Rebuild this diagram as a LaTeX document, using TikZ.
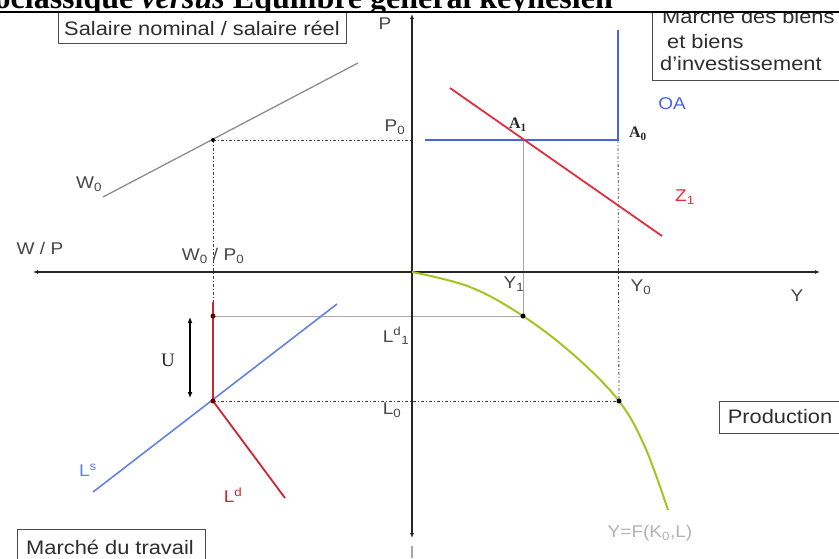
\documentclass[tikz,border=0pt]{standalone}
\usepackage{fontspec}
\setmainfont{Liberation Sans}[FakeStretch=1.12]
\newfontfamily\serifbold{Liberation Serif}
\usetikzlibrary{arrows.meta}
\definecolor{oablue}{RGB}{70,100,230}
\definecolor{lsblue}{RGB}{100,130,225}
\definecolor{zred}{RGB}{225,45,60}
\definecolor{ldred}{RGB}{210,35,50}
\definecolor{prodgreen}{RGB}{165,195,35}
\definecolor{txt}{RGB}{70,70,70}
\definecolor{boxtxt}{RGB}{45,45,45}
\tikzset{
  axisline/.style={draw=black!85, line width=1.5pt, {Latex[length=5pt,width=4pt]}-{Latex[length=5pt,width=4pt]}},
  lbl/.style={text=txt, font=\fontsize{17}{19}\selectfont, inner sep=0pt},
  boxlbl/.style={text=boxtxt, font=\fontsize{19.5}{22}\selectfont, inner sep=0pt},
  frame/.style={draw=black!70, line width=1pt},
  dashdot/.style={draw=black!75, line width=0.8pt, dash pattern=on 3pt off 2pt on 1pt off 2pt},
  thin gray/.style={draw=black!35, line width=0.7pt},
  dotpt/.style={circle, fill=black, inner sep=0pt, minimum size=5pt},
  serifbl/.style={text=black!85, font=\serifbold\bfseries\fontsize{16}{18}\selectfont, inner sep=0pt},
}
\begin{document}
\begin{tikzpicture}[x=1pt,y=-1pt]
\useasboundingbox (0,0) rectangle (839,558);
% key coordinates
\coordinate (O) at (412,272);
\coordinate (xl) at (33,272);
\coordinate (xr) at (820,272);
\coordinate (yt) at (412,14);
\coordinate (yb) at (412,538);
\coordinate (oa1) at (425,140);
\coordinate (A0) at (618,140);
\coordinate (oa2) at (618,30);
\coordinate (z1a) at (450,88);
\coordinate (z1b) at (662,236);
\coordinate (A1) at (523,140);
\coordinate (Y1p) at (523,316);
\coordinate (Y0p) at (619,401);
\coordinate (w0a) at (103,197);
\coordinate (w0b) at (358,63);
\coordinate (E0) at (213,140);
\coordinate (P0ax) at (412,140);
\coordinate (ldtop) at (213,302);
\coordinate (Ld1) at (213,316);
\coordinate (E1) at (213,401);
\coordinate (ldend) at (285,498);
\coordinate (lsa) at (93,492);
\coordinate (lsb) at (337,304);
\coordinate (Ua) at (190,317);
\coordinate (Ub) at (190,398);
\coordinate (pend) at (668,510);

% guide lines
\draw[thin gray] (A1) -- (Y1p);
\draw[thin gray] (Ld1) -- (Y1p);
\draw[dashdot] (A0) -- (Y0p);
\draw[dashdot] (E0) -- (P0ax);
\draw[dashdot] (E0) -- (ldtop);
\draw[dashdot] (E1) -- (Y0p);

% axes
\draw[axisline] (xl) -- (xr);
\draw[axisline] (yt) -- (yb);
\draw[black!35, line width=1.2pt] (412,546) -- (412,558);

% curves
\draw[black!45, line width=1.3pt] (w0a) -- (w0b);
\draw[oablue, line width=1.6pt] (oa1) -- (A0) -- (oa2);
\draw[zred, line width=1.8pt] (z1a) -- (z1b);
\draw[lsblue, line width=1.6pt] (lsa) -- (lsb);
\draw[ldred, line width=1.8pt] (ldtop) -- (E1) -- (ldend);
\draw[prodgreen, line width=2pt] plot[smooth, tension=0.6] coordinates {(412,272) (470,287) (523,316) (575,356) (619,401) (645,447) (668,510)};
\draw[black, line width=1.5pt, {Latex[length=6pt,width=5pt]}-{Latex[length=6pt,width=5pt]}] (Ua) -- (Ub);

% points
\node[dotpt, minimum size=4pt] (dE0) at (E0) {};
\node[dotpt, fill=black!60!red] (dLd1) at (Ld1) {};
\node[dotpt, fill=black!60!red] (dE1) at (E1) {};
\node[dotpt] (dY1) at (Y1p) {};
\node[dotpt] (dY0) at (Y0p) {};

% labels
\node[lbl] (lP) at (385,24) {P};
\node[lbl] (lP0) at (395,127) {P\textsubscript{0}};
\node[lbl] (lW0) at (89,184) {W\textsubscript{0}};
\node[lbl] (lWP) at (40,248) {W / P};
\node[lbl] (lW0P0) at (213,256) {W\textsubscript{0} / P\textsubscript{0}};
\node[lbl] (lY1) at (514,284) {Y\textsubscript{1}};
\node[lbl] (lY0) at (641,287) {Y\textsubscript{0}};
\node[lbl] (lY) at (797,296) {Y};
\node[lbl] (lLd1) at (396,336) {L\textsuperscript{d}\textsubscript{1}};
\node[lbl] (lL0) at (392,410) {L\textsubscript{0}};
\node[lbl, text=oablue] (lOA) at (672,104) {OA};
\node[lbl, text=zred] (lZ1) at (685,197) {Z\textsubscript{1}};
\node[serifbl] (lA0) at (638,134) {A\textsubscript{0}};
\node[serifbl] (lA1) at (518,125) {A\textsubscript{1}};
\node[text=black!85, font=\serifbold\fontsize{19}{21}\selectfont, inner sep=0pt] (lU) at (168,360) {U};
\node[lbl, text=lsblue] (lLs) at (88,470) {L\textsuperscript{s}};
\node[lbl, text=ldred] (lLd) at (233,495) {L\textsuperscript{d}};
\node[lbl, text=black!30] (lF) at (650,533) {Y=F(K\textsubscript{0},L)};

% boxes
\draw[frame] (58,12) rectangle (346,43);
\node[boxlbl] (bSal) at (202,28) {Salaire nominal / salaire réel};
\draw[frame] (719,401) rectangle (845,433);
\node[boxlbl] (bProd) at (780,417) {Production};
\draw[frame] (17,529) rectangle (205,565);
\node[boxlbl] (bTrav) at (110,547) {Marché du travail};
\draw[frame] (652,0) rectangle (845,80);
\node[boxlbl, anchor=base west] (bB1) at (662,23) {Marche des biens};
\node[boxlbl, anchor=base west] (bB2) at (667,48) {et biens};
\node[boxlbl, anchor=base west] (bB3) at (660,70) {d’investissement};

% title band (cut off)
\fill[white] (0,0) rectangle (839,12);
\begin{scope}
\clip (0,0) rectangle (839,12);
\node[anchor=base east, inner sep=0pt, font=\serifbold\bfseries\fontsize{32}{34}\selectfont] (title) at (613,8) {oclassique \textit{versus} Equilibre général keynésien};
\end{scope}
\draw[black, line width=1.5pt] (0,12) -- (839,12);
\end{tikzpicture}
\end{document}
